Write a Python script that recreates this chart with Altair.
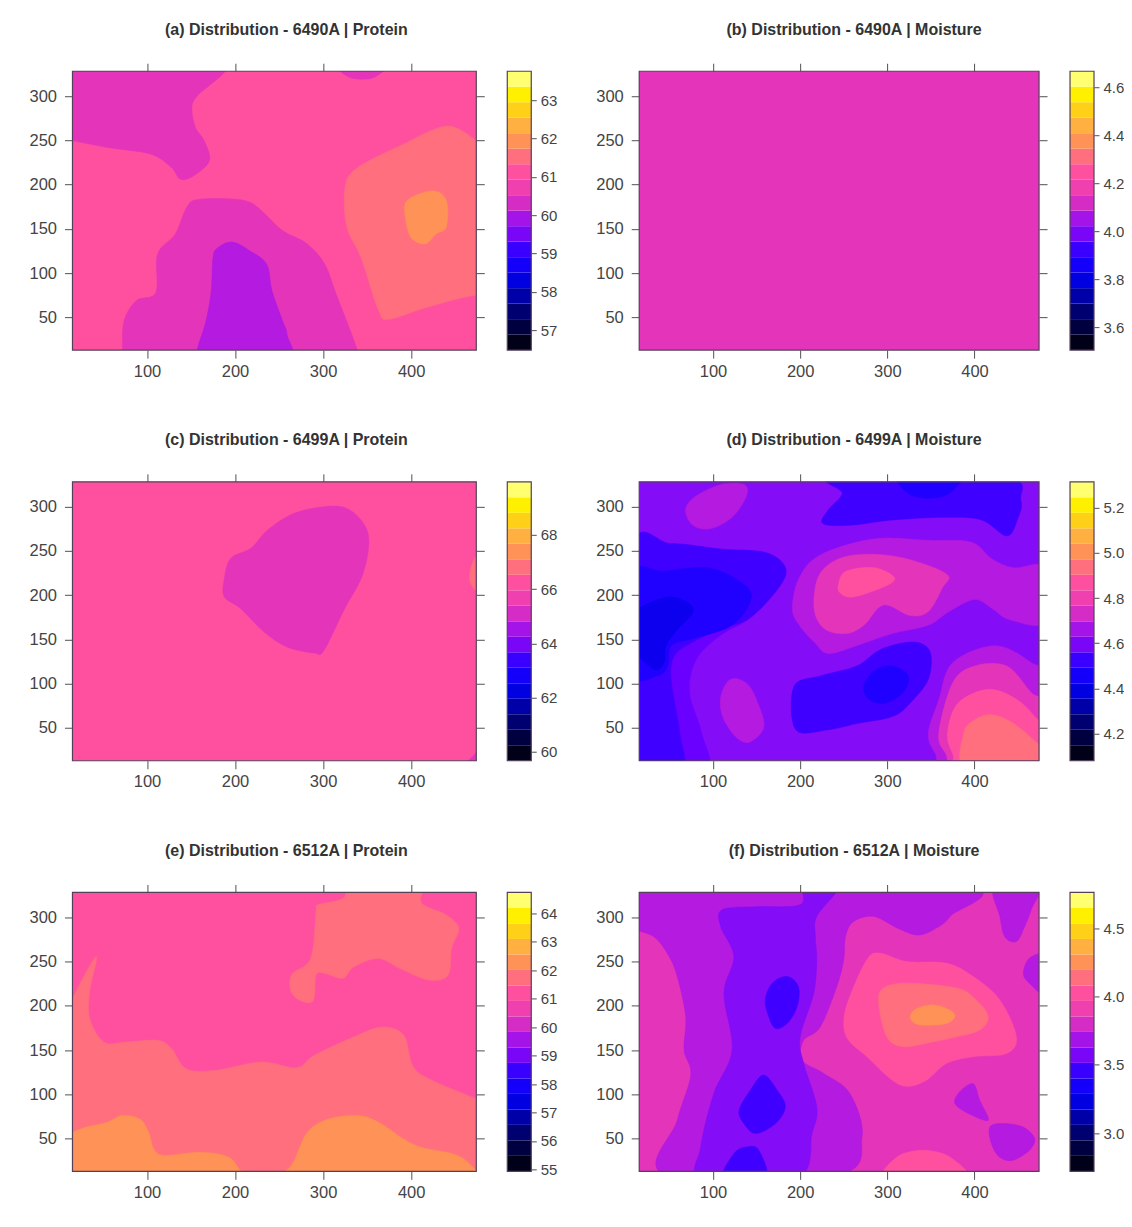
import altair as alt
import pandas as pd

PALETTE = ["#000020","#00004E","#00007E","#0000B4","#0C00EE","#2000FF","#4000FF","#6A00FF","#840CF6",
           "#B41AE0","#E435BA","#FF50A0","#FF6F7E","#FF9256"]
CB_COLORS = ["#000018","#000040","#000070","#0000A8","#0000E0","#1400FA","#3A00FF","#7A06F8","#A414E8",
             "#D42CC4","#F040B0","#FF50A0","#FF6F7E","#FF9256","#FFB040","#FFD018","#FFF000","#FFFF70"]
NV, DB, BL, IN, VI, PU, MA, PK, SA, OR = 4, 5, 6, 7, 8, 9, 10, 11, 12, 13

X_TICKS = [100, 200, 300, 400]
Y_TICKS = [50, 100, 150, 200, 250, 300]
X_DOMAIN = [15.4, 474]
Y_DOMAIN = [13, 328]
TITLES = ["(a) Distribution - 6490A | Protein", "(b) Distribution - 6490A | Moisture",
          "(c) Distribution - 6499A | Protein", "(d) Distribution - 6499A | Moisture",
          "(e) Distribution - 6512A | Protein", "(f) Distribution - 6512A | Moisture"]
CB_RANGES = [[56.48, 63.76], [3.504, 4.667], [59.67, 69.96], [4.08, 5.314], [54.93, 64.74], [2.72, 4.76]]
CB_TICKS = [[57, 58, 59, 60, 61, 62, 63], [3.6, 3.8, 4.0, 4.2, 4.4, 4.6], [60, 62, 64, 66, 68],
            [4.2, 4.4, 4.6, 4.8, 5.0, 5.2], [55, 56, 57, 58, 59, 60, 61, 62, 63, 64], [3.0, 3.5, 4.0, 4.5]]
CB_FORMATS = ["d", ".1f", "d", ".1f", "d", ".1f"]

# ---- panel (a)
a1_x = [0, 15, 55, 104, 128, 138, 153, 171, 165, 155, 151, 157, 173, 189, 195, 0]
a1_y = [250, 249.5, 242, 234.5, 219, 206, 210, 227, 249.5, 264.6, 287, 300, 313.6, 328, 345, 345]
a2_x = [318, 328, 345, 360, 370]
a2_y = [335, 322, 319, 322, 335]
a3_x = [72, 74, 88, 110, 112, 132, 145, 157, 193, 217, 234, 254, 282, 302, 315, 331, 339, 345, 72]
a3_y = [13, 46, 69, 78, 121.5, 144, 174, 183, 184, 180, 167, 148, 133, 110, 76, 35, 13, -5, -5]
a4_x = [157, 167, 173, 175, 181, 197, 217, 236, 242, 254, 259, 260, 157]
a4_y = [13, 46, 80, 118, 129, 135, 125, 110, 80, 46, 31, -5, -5]
a5_x = [339, 390, 440, 474, 490, 490, 474, 420, 375, 363, 343, 327, 325]
a5_y = [219, 245, 266, 250, 240, 68, 75, 62, 48, 58, 118, 152, 197]
a6_x = [395.5, 424, 440, 440, 428, 416, 400, 393.5]
a6_y = [182, 193, 182, 152, 144, 133, 140, 163]

# ---- panel (c)
c1_x = [187.6, 195, 218, 237, 267, 301, 327, 346, 352, 344, 323.6, 301, 289.6, 259, 233, 206.5, 188]
c1_y = [217, 241.5, 253, 273.6, 292.4, 300, 298, 281, 258.5, 220.7, 183, 137.6, 134.6, 141.4, 158.4, 184.8, 198]
c2_x = [466, 471, 478, 478, 470]
c2_y = [220.7, 239.6, 245, 205, 209]
c3_x = [462, 470, 480, 480]
c3_y = [8, 18, 26, 5]

# ---- panel (d)
d1_x = [7, 52, 109, 160.5, 183, 175, 142, 109, 81, 73, 87, 91, 7]
d1_y = [250, 258, 252, 248, 231, 208, 174, 155, 128, 90, 44, 2, 2]
d2_x = [7, 52, 109, 160.5, 183, 175, 142, 109, 77, 56, 52, 62, 64, 7]
d2_y = [250, 258, 252, 248, 231, 208, 174, 162, 147, 132, 105, 44, 2, 2]
d3_x = [7, 44, 93, 130, 144, 122, 77, 52, 48, 36, 7]
d3_y = [223.5, 227, 231, 216, 197, 166, 151, 143, 120, 109, 113]
d4_x = [7, 44, 68.5, 77, 60, 46, 44, 32, 7]
d4_y = [178, 197, 193, 181, 162, 143, 124, 116.5, 143]
d5_x = [240, 248.5, 232, 226, 257, 306, 367, 408, 437, 449, 453, 432.5]
d5_y = [334, 315, 296, 281, 279, 285, 288, 285, 267, 285, 307.5, 334]
d6_x = [314, 324, 346.6, 371, 381]
d6_y = [334, 315, 309.5, 315, 334]
d7_x = [68.5, 79, 109, 136, 138, 122, 97, 77]
d7_y = [296, 311, 325, 325, 311, 288, 275, 279]
d8_x = [109, 120, 138, 150, 158.5, 142, 126, 111]
d8_y = [86, 105, 101, 82, 51.5, 34, 40, 63]
d9_x = [193, 224, 265, 293, 330, 349, 347, 326, 306, 265, 232, 195]
d9_y = [97, 109, 120, 139, 147, 136, 105, 78, 63, 55, 48, 48]
d10_x = [273, 285, 306, 324, 318, 297.5, 279]
d10_y = [97, 114.6, 120, 109, 90, 78, 82]
d11_x = [191, 199, 224, 285, 347, 396, 420, 445, 482, 482, 441, 420, 400, 371, 347, 306, 265, 232, 216, 199]
d11_y = [185, 220, 246, 263.6, 262, 260, 241, 231, 231, 170, 172, 185, 195, 181.5, 166, 156.6, 143, 134, 147, 166]
d12_x = [216, 222, 248.5, 289, 330, 369, 363, 347, 326, 295.5, 273, 252.5, 228]
d12_y = [185, 223, 242.6, 246, 239, 223, 208, 181.5, 177, 189, 166, 156.6, 162]
d13_x = [244, 252.5, 285, 308, 297.5, 261, 246]
d13_y = [212, 227, 231, 220, 210, 198, 202.5]
d14_x = [347, 359, 375, 424, 465, 482, 482, 371, 355]
d14_y = [44, 82, 124, 143, 124, 105, 2, 2, 21]
d15_x = [359, 375, 400, 437, 465, 482, 482, 383, 367]
d15_y = [44, 101, 120, 120, 90, 74.5, 2, 2, 21]
d16_x = [369, 381, 416, 449, 473, 482, 482, 387.5, 375]
d16_y = [44, 78, 93.6, 82, 59, 50, 2, 2, 21]
d17_x = [387.5, 400, 420, 445, 473, 482, 482, 391.6]
d17_y = [44, 59, 65, 55, 32, 25, 2, 2]

# ---- panel (e)
e1_x = [7, 15, 31, 43, 35, 35, 51, 76, 112, 128, 144.5, 177, 229.5, 270, 290, 339, 367, 391.5, 401.6, 420, 474, 490, 490, 7]
e1_y = [200, 208, 238.5, 255.4, 216, 185.6, 159, 159, 161, 151.6, 129, 127, 136.5, 130, 144, 166.7, 176, 167, 132.7, 117.6, 95, 90, 0, 0]
e2_x = [292, 294, 322.7, 335, 408, 412, 440, 454, 446, 442, 420, 387.5, 363, 335, 322.7, 302, 292, 288, 266, 264, 286]
e2_y = [306, 314, 321.5, 340, 340, 316, 302.6, 287.5, 265, 234.7, 229, 242, 253.5, 244, 231, 236.5, 234.7, 204.5, 212, 234.7, 253.5]
e3_x = [7, 15, 31, 55, 72, 92, 102, 108, 120, 161, 193, 209, 233, 254, 266, 282, 306, 339, 363, 391.5, 412, 452.6, 476.5, 490, 7]
e3_y = [55, 57, 63, 68.5, 76, 72, 57, 38, 31, 34.5, 29, 12, 9, 12, 23, 57, 72, 76, 68.5, 49.6, 40, 31, 12, 0, 0]

# ---- panel (f)
f1_x = [9.6, 17, 34.4, 49.7, 59, 68.7, 66.8, 74.5, 59, 46, 242, 271, 257, 227, 202, 204, 223, 242, 250, 252, 261, 284, 311, 334, 353, 372, 385, 9.6]
f1_y = [284, 284, 276.4, 255.7, 233, 187.7, 150, 121.7, 70.8, 8.5, 8.5, 52, 101, 123.6, 138.7, 161, 176, 221.7, 252, 278, 295, 301, 288, 280, 286, 301, 335, 335]
f2_x = [110.7, 108.8, 124, 112.6, 122, 101, 86, 88, 196.5, 213.6, 219, 204, 200, 215.5, 219, 217.4, 219, 244, 206, 200, 150.7]
f2_y = [308.5, 289.6, 255.7, 214, 150, 101, 40.6, 5, 5, 55.7, 86, 135, 165, 214, 252, 278, 301, 335, 335, 314, 312]
f3_x = [160, 168, 185, 198, 196.5, 185, 171.7, 164]
f3_y = [206.6, 225.5, 233, 221.7, 199, 180, 174.5, 187.7]
f4_x = [130, 143, 158, 173.6, 183, 171.7, 149, 135.5]
f4_y = [82, 104.7, 121.7, 104.7, 86, 67, 55.7, 67]
f5_x = [112.6, 124, 139, 152.6, 160]
f5_y = [5, 33, 40.6, 36.8, 5]
f6_x = [423, 429, 434.7, 448, 457.6, 465, 473]
f6_y = [335, 301, 278, 272.6, 289.6, 308.5, 335]
f7_x = [481, 463, 456, 463, 481]
f7_y = [255.7, 253.8, 236.8, 225.5, 214]
f8_x = [398.5, 406, 415.7, 393, 377.5, 383]
f8_y = [112, 93.4, 70.8, 78.3, 89.6, 102.8]
f9_x = [417.6, 433, 455.7, 469, 463, 444, 429, 419.5]
f9_y = [63, 67, 63, 50, 36.8, 25.5, 29, 44]
f10_x = [276.5, 291.8, 322, 368, 398.5, 429, 448, 436.6, 398.5, 368, 345, 322, 303, 276.5, 255.5, 250, 255.5]
f10_y = [252, 259.4, 250, 248, 233, 206.6, 165, 146, 142.5, 135, 116, 109, 118, 142.5, 161, 180, 206.6]
f11_x = [299.4, 310.8, 341, 372, 389]
f11_y = [5, 29, 36.8, 29, 5]
f12_x = [290, 295.6, 322, 379.5, 402, 415.7, 406, 379.5, 353, 318.5, 299.4]
f12_y = [203, 220, 225.5, 220, 206.6, 187.7, 172.6, 165, 159.4, 153.8, 165]
f13_x = [326, 333.7, 353, 372, 377.5, 368, 345, 332]
f13_y = [187.7, 197, 201, 195, 187.7, 180, 178, 180]

BACKGROUNDS = [PK, MA, PK, VI, PK, MA]
PANELS = [
    [(a1_x, a1_y, MA), (a2_x, a2_y, MA), (a3_x, a3_y, MA), (a4_x, a4_y, PU), (a5_x, a5_y, SA), (a6_x, a6_y, OR)],
    [],
    [(c1_x, c1_y, MA), (c2_x, c2_y, SA), (c3_x, c3_y, MA)],
    [(d1_x, d1_y, IN), (d2_x, d2_y, BL), (d3_x, d3_y, DB), (d4_x, d4_y, NV), (d5_x, d5_y, BL), (d6_x, d6_y, DB),
     (d7_x, d7_y, PU), (d8_x, d8_y, PU), (d9_x, d9_y, BL), (d10_x, d10_y, DB), (d11_x, d11_y, PU), (d12_x, d12_y, MA),
     (d13_x, d13_y, PK), (d14_x, d14_y, PU), (d15_x, d15_y, MA), (d16_x, d16_y, PK), (d17_x, d17_y, SA)],
    [(e1_x, e1_y, SA), (e2_x, e2_y, SA), (e3_x, e3_y, OR)],
    [(f1_x, f1_y, PU), (f2_x, f2_y, VI), (f3_x, f3_y, BL), (f4_x, f4_y, BL), (f5_x, f5_y, BL), (f6_x, f6_y, PU),
     (f7_x, f7_y, PU), (f8_x, f8_y, PU), (f9_x, f9_y, PU), (f10_x, f10_y, PK), (f11_x, f11_y, PK), (f12_x, f12_y, SA),
     (f13_x, f13_y, OR)],
]

FONT = "Liberation Sans"
INK = "#444444"
LINE = "#55405a"
PW = [404, 400]
CW = 24
H = 279

xs = alt.Scale(domain=X_DOMAIN, nice=False, zero=False)
ys = alt.Scale(domain=Y_DOMAIN, nice=False, zero=False)
corner = pd.DataFrame({"x": X_DOMAIN, "y": Y_DOMAIN})


def axis(orient, values, labels, size=8, pad=5, fmt=None, font_size=16.5):
    kw = dict(orient=orient, values=values, labels=labels, title=None, grid=False, domain=False, tickSize=size,
              tickColor="#505050", tickWidth=1, labelFont=FONT, labelFontSize=font_size, labelColor=INK, labelPadding=pad)
    if fmt:
        kw["format"] = fmt
    return alt.Axis(**kw)


def frame(w):
    return alt.Chart(corner.head(1)).mark_rect(fillOpacity=0, stroke=LINE, strokeWidth=1.2).encode(
        x=alt.value(0), x2=alt.value(w), y=alt.value(0), y2=alt.value(H))


def poly(px, py, level):
    df = pd.DataFrame({"x": px, "y": py, "i": range(len(px))})
    col = PALETTE[level]
    return alt.Chart(df).mark_line(fill=col, stroke=col, strokeWidth=0.5, interpolate="cardinal-closed", clip=True).encode(
        x=alt.X("x:Q", scale=xs, axis=None), y=alt.Y("y:Q", scale=ys, axis=None), order=alt.Order("i:Q"))


def panel(idx, w, dx):
    bg = alt.Chart(corner.head(1)).mark_rect(fill=PALETTE[BACKGROUNDS[idx]]).encode(
        x=alt.value(0), x2=alt.value(w), y=alt.value(0), y2=alt.value(H))
    layers = [bg] + [poly(*p) for p in PANELS[idx]]
    bl = alt.Chart(corner).mark_point(opacity=0).encode(
        x=alt.X("x:Q", scale=xs, axis=axis("bottom", X_TICKS, True)),
        y=alt.Y("y:Q", scale=ys, axis=axis("left", Y_TICKS, True, pad=8)))
    tr = alt.Chart(corner).mark_point(opacity=0).encode(
        x=alt.X("x:Q", scale=xs, axis=axis("top", X_TICKS, False)),
        y=alt.Y("y:Q", scale=ys, axis=axis("right", Y_TICKS, False)))
    return alt.layer(*layers, bl, tr, frame(w)).resolve_axis(x="independent", y="independent").properties(
        width=w, height=H,
        title=alt.TitleParams(TITLES[idx], font=FONT, fontSize=16, fontWeight="bold", color="#333333",
                              anchor="middle", dx=dx, offset=25))


def colorbar(idx):
    bands = pd.DataFrame({"c": CB_COLORS, "i": range(len(CB_COLORS))})
    rect = alt.Chart(bands).mark_rect().encode(
        y=alt.Y("i:O", sort="descending", axis=None, scale=alt.Scale(paddingInner=0, paddingOuter=0)),
        color=alt.Color("c:N", scale=None))
    ticks = pd.DataFrame({"v": CB_TICKS[idx]})
    ax = alt.Chart(ticks).mark_point(opacity=0).encode(
        y=alt.Y("v:Q", scale=alt.Scale(domain=CB_RANGES[idx], nice=False, zero=False),
                axis=axis("right", CB_TICKS[idx], True, size=5, pad=4, fmt=CB_FORMATS[idx], font_size=15)))
    return alt.layer(rect, ax, frame(CW)).resolve_scale(y="independent").properties(width=CW, height=H)


def spacer():
    return alt.Chart(corner.head(1)).mark_point(opacity=0).encode(
        x=alt.value(0), y=alt.value(0)).properties(width=46, height=H)


cells = []
for r in range(3):
    cells += [panel(2 * r, PW[0], 12), colorbar(2 * r), spacer(), panel(2 * r + 1, PW[1], 15), colorbar(2 * r + 1)]

chart = alt.concat(*cells, columns=5, spacing={"row": 131.8, "column": 31}, bounds="flush", align="each",
                   padding={"left": 20.5, "top": 13, "right": 0, "bottom": 0}).configure_view(
    stroke="transparent", strokeWidth=0)

chart.save("out.html", embed_options={"renderer": "svg", "actions": False})
